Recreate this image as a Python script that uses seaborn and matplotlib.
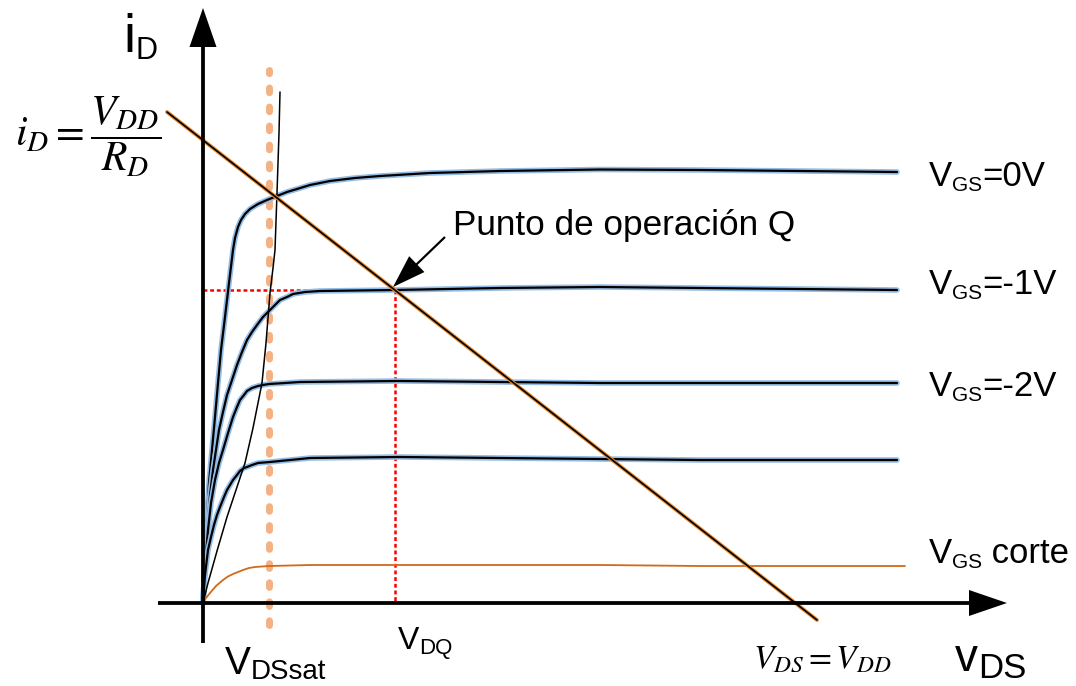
import matplotlib
matplotlib.use("Agg")
import matplotlib.pyplot as plt
import matplotlib.patheffects as pe
import seaborn as sns
import pandas as pd

# ---- characteristic curves of the JFET (V_DS, i_D) in arbitrary units ----
vds_0v = [0, 0.02, 0.04, 0.06, 0.09, 0.12, 0.15, 0.18, 0.22, 0.26, 0.30, 0.32, 0.35, 0.38, 0.42,
          0.47, 0.55, 0.64, 0.74, 0.84, 0.94, 1.07, 1.27, 1.52, 1.77, 2.27, 2.97, 3.97, 4.97, 5.97, 6.94]
id_0v = [0, 0.43, 0.86, 1.20, 1.53, 1.86, 2.20, 2.53, 2.86, 3.20, 3.53, 3.65, 3.76, 3.83, 3.89,
         3.94, 3.99, 4.03, 4.07, 4.11, 4.14, 4.18, 4.22, 4.25, 4.27, 4.30, 4.32, 4.335, 4.33, 4.32, 4.31]

vds_m1v = [0, 0.02, 0.05, 0.07, 0.10, 0.13, 0.16, 0.20, 0.24, 0.29, 0.34, 0.39, 0.44, 0.49, 0.54,
           0.60, 0.66, 0.72, 0.77, 0.84, 0.90, 1.02, 1.17, 1.92, 2.97, 3.97, 4.97, 5.97, 6.94]
id_m1v = [0, 0.43, 0.83, 1.08, 1.33, 1.53, 1.73, 1.91, 2.08, 2.23, 2.38, 2.51, 2.63, 2.71, 2.78,
          2.86, 2.92, 2.98, 3.03, 3.06, 3.09, 3.11, 3.12, 3.13, 3.15, 3.16, 3.15, 3.14, 3.13]

vds_m2v = [0, 0.02, 0.05, 0.08, 0.12, 0.16, 0.20, 0.25, 0.30, 0.34, 0.37, 0.41, 0.44, 0.49, 0.55,
           0.60, 0.66, 0.82, 0.97, 1.97, 2.97, 3.97, 4.97, 5.97, 6.94]
id_m2v = [0, 0.38, 0.73, 1.00, 1.23, 1.40, 1.53, 1.70, 1.86, 1.96, 2.03, 2.08, 2.12, 2.15, 2.17,
          2.18, 2.19, 2.20, 2.21, 2.22, 2.21, 2.20, 2.20, 2.20, 2.20]

vds_m3v = [0, 0.02, 0.05, 0.08, 0.11, 0.14, 0.17, 0.21, 0.24, 0.27, 0.30, 0.34, 0.37, 0.41, 0.44,
           0.49, 0.55, 0.61, 0.67, 0.87, 1.07, 1.97, 2.97, 3.97, 4.97, 5.97, 6.94]
id_m3v = [0, 0.28, 0.53, 0.66, 0.78, 0.88, 0.96, 1.06, 1.13, 1.18, 1.23, 1.28, 1.32, 1.35, 1.36,
          1.38, 1.40, 1.405, 1.41, 1.43, 1.45, 1.46, 1.45, 1.44, 1.43, 1.43, 1.43]

vds_cut = [0, 0.03, 0.07, 0.13, 0.20, 0.25, 0.30, 0.35, 0.40, 0.46, 0.52, 0.59, 0.67, 1.07, 1.97,
           2.97, 3.97, 4.97, 5.97, 7.02]
id_cut = [0, 0.05, 0.10, 0.17, 0.23, 0.265, 0.29, 0.31, 0.33, 0.35, 0.36, 0.365, 0.37, 0.38, 0.38,
          0.38, 0.38, 0.37, 0.37, 0.37]

# locus of V_DS(sat) (boundary between ohmic and saturation regions)
vds_sat_locus = [0, 0.05, 0.14, 0.24, 0.33, 0.42, 0.50, 0.55, 0.59, 0.63, 0.67, 0.70, 0.72, 0.74, 0.76, 0.77]
id_sat_locus = [0, 0.20, 0.52, 0.86, 1.13, 1.40, 1.75, 2.00, 2.20, 2.60, 3.10, 3.35, 3.53, 4.10, 4.70, 5.11]

# DC load line end points and the operating point Q
load_vds = [-0.36, 6.14]
load_id = [4.91, -0.17]
q_vds, q_id = 1.92, 3.13
vds_sat = 0.66

curve_labels = ["0V", "-1V", "-2V", "corte"]
curve_label_y = [4.17, 3.09, 2.07, 0.40]

# ---- style ----
sns.set_theme(style="white")
plt.rcParams["font.family"] = ["Liberation Sans", "DejaVu Sans"]
plt.rcParams["mathtext.fontset"] = "stix"
plt.rcParams["lines.scale_dashes"] = False
plt.rcParams["text.color"] = "black"

fig = plt.figure(figsize=(10.76, 6.86), dpi=100)
ax = fig.add_axes([0, 0, 1, 1])
ax.set_xlim(-2.03, 8.73)
ax.set_ylim(-0.83, 6.03)
ax.set_axis_off()

halo = [pe.Stroke(linewidth=4.0, foreground="#93BCE6"), pe.Normal()]

# V_DS(sat) marker (thick dotted orange)
sns.lineplot(x=[vds_sat, vds_sat], y=[-0.22, 5.33], ax=ax, color="#F4B183", lw=5.0,
             linestyle=(0, (3.4, 10.3)), dash_capstyle="round", estimator=None, sort=False, zorder=1)

# Q projections
sns.lineplot(x=[0, q_vds], y=[q_id, q_id], ax=ax, color="#FF0000", lw=1.8,
             linestyle=(0, (2.8, 2.0)), estimator=None, sort=False, zorder=2)
sns.lineplot(x=[q_vds, q_vds], y=[q_id, 0], ax=ax, color="#FF0000", lw=1.8,
             linestyle=(0, (2.8, 2.0)), estimator=None, sort=False, zorder=2)

# output characteristics
for xs, ys in [(vds_0v, id_0v), (vds_m1v, id_m1v), (vds_m2v, id_m2v), (vds_m3v, id_m3v)]:
    df = pd.DataFrame({"vds": xs, "id": ys})
    sns.lineplot(data=df, x="vds", y="id", ax=ax, color="black", lw=1.6,
                 estimator=None, sort=False, path_effects=halo, zorder=3,
                 solid_capstyle="round", solid_joinstyle="round")

sns.lineplot(x=vds_cut, y=id_cut, ax=ax, color="#D0691A", lw=1.3,
             estimator=None, sort=False, zorder=3)

sns.lineplot(x=vds_sat_locus, y=id_sat_locus, ax=ax, color="black", lw=1.1,
             estimator=None, sort=False, zorder=3, solid_joinstyle="round")

# load line
sns.lineplot(x=load_vds, y=load_id, ax=ax, color="black", lw=1.2, estimator=None, sort=False,
             path_effects=[pe.Stroke(linewidth=2.8, foreground="#E8892E"), pe.Normal()], zorder=4)

# axes with arrow heads
ax.arrow(0, -0.40, 0, 6.35, width=0.038, head_width=0.27, head_length=0.39,
         length_includes_head=True, color="black", lw=0, zorder=5)
ax.arrow(-0.45, 0.0, 8.49, 0, width=0.038, head_width=0.26, head_length=0.38,
         length_includes_head=True, color="black", lw=0, zorder=5)

# pointer to Q
ax.arrow(2.42, 3.66, q_vds - 2.42 - 0.02, q_id - 3.66 + 0.03, width=0.022, head_width=0.22,
         head_length=0.33, length_includes_head=True, color="black", lw=0, zorder=5)
ax.text(2.50, 3.68, "Punto de operación Q", fontsize=25.3, va="baseline", ha="left")


def sub_label(x, y, main, sub, tail="", size=25, subsize=15, drop=0.05):
    t1 = ax.text(x, y, main, fontsize=size, va="baseline", ha="left")
    t2 = ax.annotate(sub, xy=(1, y - drop), xycoords=(t1, "data"), fontsize=subsize,
                     va="baseline", ha="left")
    if tail:
        ax.annotate(tail, xy=(1, y), xycoords=(t2, "data"), fontsize=size,
                    va="baseline", ha="left")


for lab, ly in zip(curve_labels, curve_label_y):
    if lab == "corte":
        sub_label(7.26, ly, "V", "GS", " corte")
    else:
        sub_label(7.26, ly, "V", "GS", "=" + lab)

sub_label(-0.80, 5.51, "i", "D", size=39, subsize=22, drop=0.07)
sub_label(7.52, -0.68, "v", "DS", size=33, subsize=25, drop=0.07)
sub_label(0.22, -0.71, "V", "DSsat", size=28, subsize=20, drop=0.05)
sub_label(1.95, -0.46, "V", "DQ", size=23, subsize=16, drop=0.05)

ax.text(-1.88, 4.57, r"$i_D=\dfrac{V_{DD}}{R_D}$", fontsize=30, va="baseline", ha="left")
ax.text(5.50, -0.65, r"$V_{DS}=V_{DD}$", fontsize=24, va="baseline", ha="left")

fig.savefig("out.png", dpi=100, facecolor="white")
